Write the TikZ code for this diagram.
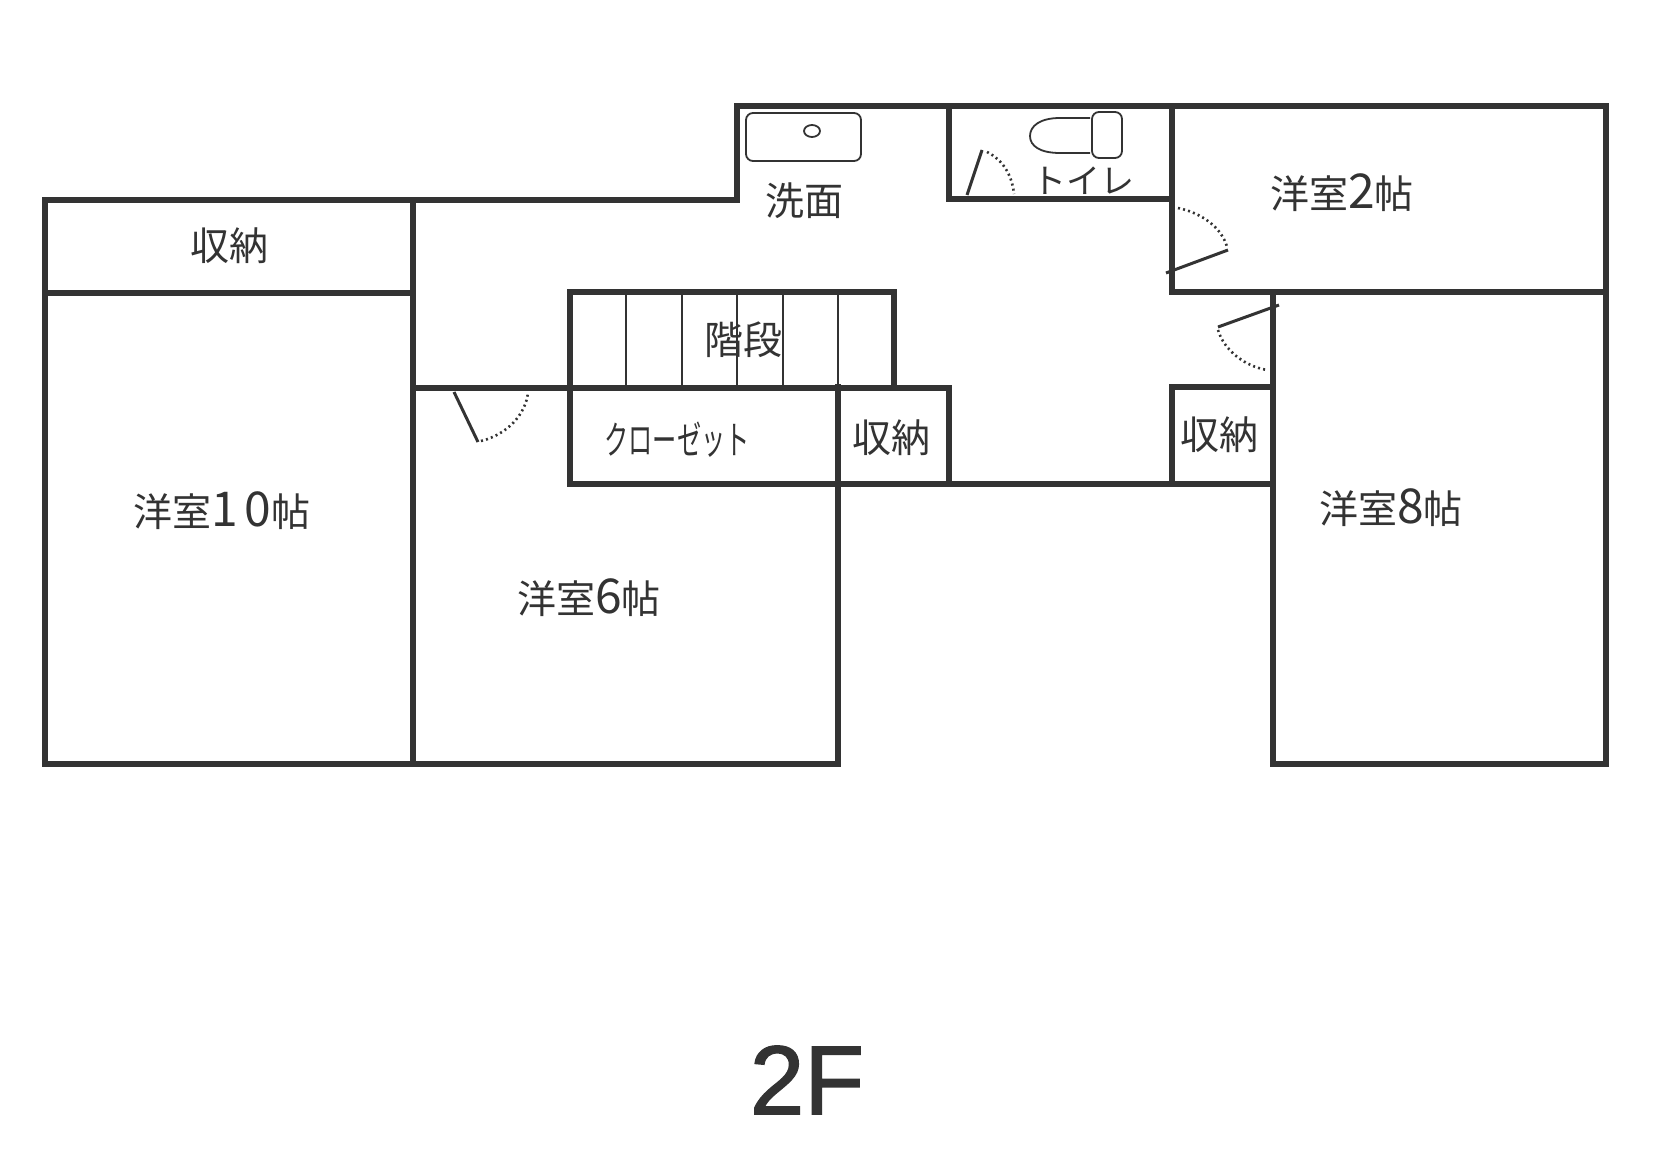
\documentclass[tikz,border=0pt]{standalone}
\usepackage{fontspec}
\setmainfont{Noto Sans CJK JP}
\newfontfamily\floorfont[FakeBold=1.5]{Liberation Sans}
\newcommand{\bigdig}[1]{{\fontsize{48}{48}\selectfont #1}}
\definecolor{ink}{HTML}{333333}
\tikzset{%
	% Specifications for style of lines:
	wall/.style = {draw=ink, line width=6.5pt, line cap=rect, miter limit=10},
	tread/.style = {draw=ink, line width=1.8pt},
	door/.style = {draw=ink, line width=3pt},
	swing/.style = {draw=ink, line width=2.6pt, dash pattern=on 2pt off 3.2pt},
	fixture/.style = {draw=ink, line width=1.8pt, rounded corners=7pt},
	% Specifications for style of nodes:
	room/.style = {text=ink, inner sep=0pt, font=\fontsize{39}{39}\selectfont},
	floorname/.style = {text=ink, inner sep=0pt, font=\floorfont\fontsize{98}{98}\selectfont}
}
\begin{document}
\begin{tikzpicture}[x=1pt, y=-1pt]
	\useasboundingbox (0,0) rectangle (1653,1169);
	% Labels
	\node (storeleft)  [room] at (229,246)  {収納};
	\node (wash)       [room] at (804,201)  {洗面};
	\node (stairs)     [room] at (743,340)  {階段};
	\node (storemid)   [room] at (891,438)  {収納};
	\node (storeright) [room] at (1219,435) {収納};
	\node (toilet)     [room, font=\fontsize{34}{34}\selectfont] at (1083,181) {トイレ};
	\node (closet)     [room, xscale=.62] at (677,440) {クローゼット};
	\node (room10)     [room] at (222,511)  {洋室\bigdig{1}\hspace{6pt}\bigdig{0}帖};
	\node (room6)      [room] at (589,598)  {洋室\bigdig{6}帖};
	\node (room2)      [room] at (1342,193) {洋室\bigdig{2}帖};
	\node (room8)      [room] at (1391,508) {洋室\bigdig{8}帖};
	\node (floor)      [floorname] at (807,1080) {2F};
	% Outer walls
	\draw[wall] (45,200) -- (737,200) -- (737,106) -- (1606,106) -- (1606,764)
		-- (1273,764) -- (1273,292);
	\draw[wall] (45,200) -- (45,764) -- (838,764) -- (838,387);
	% Inner walls
	\draw[wall] (45,293) -- (413,293);
	\draw[wall] (413,200) -- (413,764);
	\draw[wall] (949,106) -- (949,199) -- (1172,199);
	\draw[wall] (1172,106) -- (1172,292) -- (1606,292);
	\draw[wall] (413,388) -- (949,388) -- (949,484);
	\draw[wall] (570,388) -- (570,292) -- (894,292) -- (894,388);
	\draw[wall] (570,388) -- (570,484) -- (1273,484);
	\draw[wall] (1172,484) -- (1172,387) -- (1273,387);
	% Stairs
	\foreach \x in {626,682,737,783,838}
		\draw[tread] (\x,292) -- (\x,388);
	% Doors
	\draw[door] (967,195) -- (982,150);
	\draw[swing] (987,152) .. controls (1003,160) and (1012,175) .. (1014,194);
	\draw[door] (1166,273) -- (1228,250);
	\draw[swing] (1178,208) .. controls (1202,213) and (1222,228) .. (1227,247);
	\draw[door] (1279,305) -- (1218,327);
	\draw[swing] (1218,330) .. controls (1224,350) and (1244,366) .. (1267,370);
	\draw[door] (454,392) -- (478,442);
	\draw[swing] (481,441) .. controls (506,435) and (526,415) .. (528,392);
	% Sink
	\draw[fixture] (746,113) rectangle (861,161);
	\draw[draw=ink, line width=1.8pt] (812,131) ellipse (8 and 6);
	% Toilet
	\draw[fixture] (1092,112) rectangle (1122,158);
	\draw[draw=ink, line width=1.8pt] (1090,118) -- (1060,118)
		.. controls (1040,118) and (1030,126) .. (1030,136)
		.. controls (1030,146) and (1040,153) .. (1060,153) -- (1090,153);
\end{tikzpicture}
\end{document}
